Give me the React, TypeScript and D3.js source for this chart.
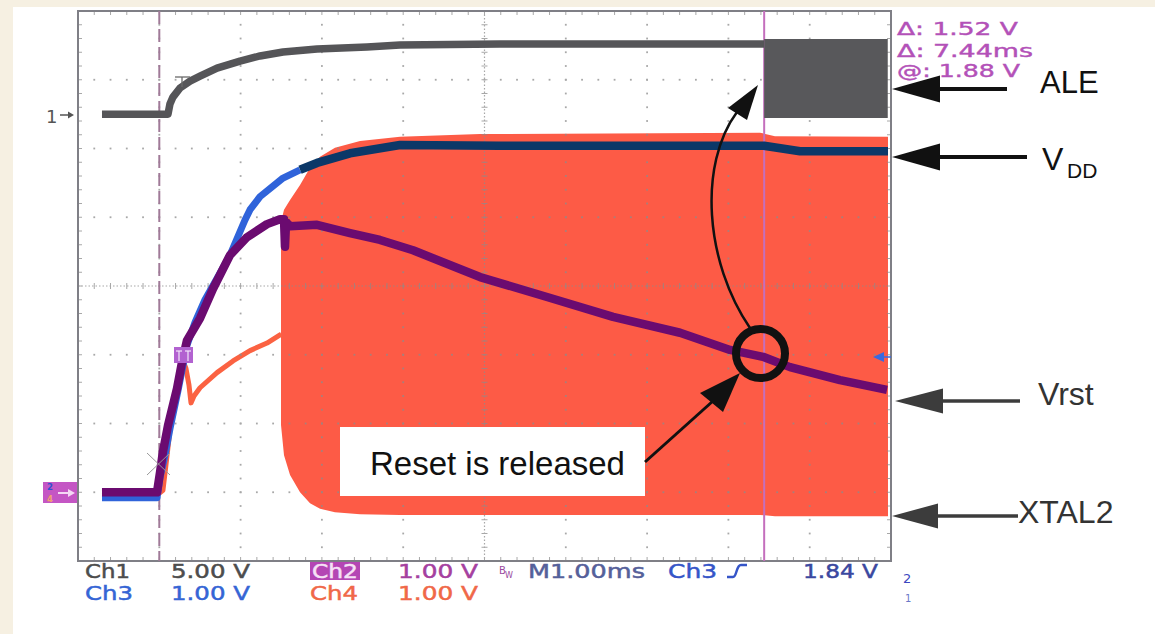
import React from 'react';
import * as d3 from 'd3';

const W = 1155;
const H = 634;

// ---- scope settings ----
const timeDomain: [number, number] = [-1, 9]; // ms, 1.00 ms/div, trigger at 1st division
const divDomain: [number, number] = [-4, 4];
const ch1Offset = 2.5; // divisions above centre
const ch1VoltsPerDiv = 5;
const lowOffset = -3; // ground of Ch2/3/4
const lowVoltsPerDiv = 1;
const cursorT = 7.44;

// ---- Ch1: ALE (5 V/div) ----
const aleT = [-0.705, 0.107, 0.131, 0.168, 0.255, 0.378, 0.501, 0.71, 0.993, 1.239, 1.522, 1.94, 2.555, 2.96, 4.19, 7.438];
const aleV = [0.0, 0.0, 0.73, 1.24, 1.9, 2.4, 2.76, 3.35, 3.86, 4.23, 4.52, 4.74, 4.88, 5.02, 5.1, 5.1];
const aleBurstT = [7.44, 8.96];
const aleBurstHigh = [5.46, 5.46];
const aleBurstLow = [-0.28, -0.28];

// ---- Ch3: VDD (1 V/div) ----
const vddT = [-0.705, -0.028, 0.009, 0.07, 0.132, 0.23, 0.341, 0.439, 0.562, 0.71, 0.87, 1.054, 1.116, 1.239, 1.522, 1.731, 1.94, 2.346, 2.961, 4.191, 7.438, 7.881, 8.963];
const vddV = [-0.08, -0.08, 0.21, 0.54, 0.93, 1.48, 2.14, 2.47, 2.8, 3.11, 3.45, 3.96, 4.11, 4.3, 4.57, 4.69, 4.79, 4.93, 5.05, 5.04, 5.04, 4.96, 4.96];

// ---- Ch2: Vrst (1 V/div) ----
const vrstT = [-0.705, -0.028, 0.009, 0.045, 0.107, 0.218, 0.279, 0.341, 0.501, 0.661, 0.87, 1.079, 1.325, 1.485, 1.534, 1.546, 1.559, 1.608, 1.94, 2.346, 2.715, 3.121, 3.945, 4.769, 5.581, 6.405, 7.02, 7.426, 7.758, 8.373, 8.951];
const vrstV = [0.0, 0.0, 0.29, 0.59, 0.97, 1.51, 1.89, 2.21, 2.53, 2.96, 3.45, 3.71, 3.9, 3.97, 3.97, 3.57, 3.93, 3.87, 3.89, 3.77, 3.67, 3.52, 3.13, 2.84, 2.55, 2.32, 2.07, 1.97, 1.82, 1.63, 1.49];

// ---- Ch4: XTAL2 (1 V/div) ----
const xtalT = [-0.028, 0.045, 0.082, 0.132, 0.205, 0.279, 0.328, 0.365, 0.39, 0.427, 0.501, 0.71, 0.907, 1.116, 1.325, 1.485, 1.5];
const xtalV = [-0.04, 0.03, 0.4, 0.91, 1.42, 1.95, 1.8, 1.56, 1.3, 1.4, 1.52, 1.74, 1.91, 2.06, 2.17, 2.29, 2.3];
const xtalEnvT = [1.497, 1.534, 1.608, 1.731, 1.854, 1.977, 2.161, 2.469, 2.961, 3.945, 7.389, 7.573, 8.963];
const xtalEnvHigh = [3.93, 4.11, 4.25, 4.47, 4.72, 4.88, 5.01, 5.11, 5.17, 5.21, 5.23, 5.18, 5.17];
const xtalEnvLow = [0.98, 0.54, 0.25, 0.0, -0.16, -0.24, -0.29, -0.32, -0.33, -0.33, -0.33, -0.35, -0.35];

// ---- texts ----
const readout = ['Δ: 1.52 V', 'Δ: 7.44ms', '@: 1.88 V'];
const row1Labels = ['Ch1', '5.00 V', 'Ch2', '1.00 V', 'M1.00ms', 'Ch3', '1.84 V'];
const row2Labels = ['Ch3', '1.00 V', 'Ch4', '1.00 V'];
const signalNames = ['ALE', 'V', 'DD', 'Vrst', 'XTAL2'];
const calloutText = 'Reset is released';

// ---- layout ----
const PL = 78, PR = 891, PT = 11, PB = 561;

const x = d3.scaleLinear().domain(timeDomain).range([PL, PR]);
const yDiv = d3.scaleLinear().domain(divDomain).range([PB, PT]);
const yCh1 = (v: number) => yDiv(ch1Offset + v / ch1VoltsPerDiv);
const yLow = (v: number) => yDiv(lowOffset + v / lowVoltsPerDiv);

const zip = (t: number[], v: number[]) => t.map((tt, i) => [tt, v[i]] as [number, number]);

const lineCh1 = d3.line<[number, number]>().x(d => x(d[0])).y(d => yCh1(d[1]));
const lineLow = d3.line<[number, number]>().x(d => x(d[0])).y(d => yLow(d[1]));

const envArea = d3
  .area<number>()
  .x(i => x(xtalEnvT[i]))
  .y0(i => yLow(xtalEnvLow[i]))
  .y1(i => yLow(xtalEnvHigh[i]));

const aleArea = d3
  .area<number>()
  .x(i => x(aleBurstT[i]))
  .y0(i => yCh1(aleBurstLow[i]))
  .y1(i => yCh1(aleBurstHigh[i]));

const OSC_FONT = 'DejaVu Sans, Verdana, sans-serif';
const ARIAL = 'Liberation Sans, Arial, sans-serif';

function Grid() {
  const els: React.ReactNode[] = [];
  const gridCol = '#8c8c8c';
  for (let i = 1; i < 10; i++) {
    if (i === 5) continue;
    const gx = x(timeDomain[0] + i);
    for (let j = 1; j < 40; j++) {
      const gy = yDiv(-4 + j * 0.2);
      els.push(<rect key={`v${i}-${j}`} x={gx - 0.9} y={gy - 0.9} width={1.8} height={1.8} fill={gridCol} />);
    }
  }
  for (let k = 1; k < 8; k++) {
    if (k === 4) continue;
    const gy = yDiv(-4 + k);
    for (let j = 1; j < 50; j++) {
      const gx = x(timeDomain[0] + j * 0.2);
      els.push(<rect key={`h${k}-${j}`} x={gx - 0.9} y={gy - 0.9} width={1.8} height={1.8} fill={gridCol} />);
    }
  }
  const cx = x(timeDomain[0] + 5);
  const cy = yDiv(0);
  els.push(<line key="cx" x1={cx} x2={cx} y1={PT} y2={PB} stroke={gridCol} strokeWidth={1.2} strokeDasharray="1.5 2" />);
  els.push(<line key="cy" x1={PL} x2={PR} y1={cy} y2={cy} stroke={gridCol} strokeWidth={1.2} strokeDasharray="1.5 2" />);
  for (let j = 1; j < 50; j++) {
    const gx = x(timeDomain[0] + j * 0.2);
    els.push(<line key={`ct${j}`} x1={gx} x2={gx} y1={cy - 3} y2={cy + 3} stroke={gridCol} strokeWidth={1} />);
    els.push(<line key={`bt${j}`} x1={gx} x2={gx} y1={PB - 4} y2={PB} stroke={gridCol} strokeWidth={1} />);
    els.push(<line key={`tt${j}`} x1={gx} x2={gx} y1={PT} y2={PT + 4} stroke={gridCol} strokeWidth={1} />);
  }
  for (let j = 1; j < 40; j++) {
    const gy = yDiv(-4 + j * 0.2);
    els.push(<line key={`cv${j}`} x1={cx - 3} x2={cx + 3} y1={gy} y2={gy} stroke={gridCol} strokeWidth={1} />);
    els.push(<line key={`lt${j}`} x1={PL} x2={PL + 4} y1={gy} y2={gy} stroke={gridCol} strokeWidth={1} />);
    els.push(<line key={`rt${j}`} x1={PR - 4} x2={PR} y1={gy} y2={gy} stroke={gridCol} strokeWidth={1} />);
  }
  return <g opacity={0.75}>{els}</g>;
}

function LeftArrow({ tipX, y, baseX, half, endX, color, sw }: any) {
  return (
    <g>
      <line x1={baseX - 2} x2={endX} y1={y} y2={y} stroke={color} strokeWidth={sw} />
      <polygon points={`${tipX},${y} ${baseX},${y - half} ${baseX},${y + half}`} fill={color} />
    </g>
  );
}

export default function App() {
  const idxEnv = xtalEnvT.map((_, i) => i);
  const idxAle = aleBurstT.map((_, i) => i);
  const aleData = zip(aleT, aleV);
  const vddData = zip(vddT, vddV);
  const vrstData = zip(vrstT, vrstV);
  const xtalData = zip(xtalT, xtalV);
  const vddBlue = vddData.filter(d => d[0] <= 1.85);
  const vddNavy = vddData.filter(d => d[0] >= 1.7);
  const trigX = x(0);
  const curX = x(cursorT);
  const row1 = [
    { x: 85, w: 45, c: '#4d4d4d' },
    { x: 171, w: 79, c: '#4d4d4d' },
    { x: 312, w: 46, c: '#f6e2f6' },
    { x: 398, w: 80, c: '#a5409f' },
    { x: 528, w: 117, c: '#55609a' },
    { x: 668, w: 49, c: '#3555c8' },
    { x: 803, w: 75, c: '#3a48a0' },
  ];
  const row2 = [
    { x: 85, w: 48, c: '#3565d5' },
    { x: 171, w: 79, c: '#3565d5' },
    { x: 310, w: 48, c: '#f06848' },
    { x: 398, w: 80, c: '#f06848' },
  ];
  const readoutPos = [
    { y: 35, w: 121 },
    { y: 57, w: 136 },
    { y: 77, w: 123 },
  ];

  return (
    <svg width={W} height={H} style={{ position: 'absolute', left: 0, top: 0, display: 'block' }}>
      <rect x={0} y={0} width={W} height={H} fill="#f6f0e2" />
      <rect x={13} y={7} width={W - 13} height={H - 7} fill="#ffffff" />

      {/* Ch4 XTAL2 oscillation envelope and start-up trace */}
      <path d={envArea(idxEnv) || ''} fill="#fd5b46" />
      <path d={lineLow(xtalData) || ''} fill="none" stroke="#fb6242" strokeWidth={5} strokeLinejoin="round" />

      <Grid />

      <rect x={PL} y={PT} width={PR - PL} height={PB - PT} fill="none" stroke="#7f7f86" strokeWidth={2} />

      <line x1={trigX} x2={trigX} y1={PT} y2={PB} stroke="#a07a98" strokeWidth={2} strokeDasharray="13 5" />
      <line x1={curX} x2={curX} y1={PT} y2={PB} stroke="#c46fbd" strokeWidth={2} />

      {/* Ch1 ALE */}
      <path d={lineCh1(aleData) || ''} fill="none" stroke="#555558" strokeWidth={7.5} strokeLinejoin="round" />
      <path d={aleArea(idxAle) || ''} fill="#58585b" />

      {/* Ch3 VDD */}
      <path d={lineLow(vddBlue) || ''} fill="none" stroke="#2f63da" strokeWidth={7} strokeLinejoin="round" />
      <path d={lineLow(vddNavy) || ''} fill="none" stroke="#0c3868" strokeWidth={8.5} strokeLinejoin="round" />

      {/* Ch2 Vrst */}
      <path d={lineLow(vrstData) || ''} fill="none" stroke="#6b0b70" strokeWidth={8.5} strokeLinejoin="round" />

      {/* markers */}
      <g stroke="#9a9a9a" strokeWidth={1}>
        <line x1={147} y1={453} x2={170} y2={475} />
        <line x1={170} y1={453} x2={147} y2={475} />
      </g>
      <rect x={174} y={347} width={19} height={16} fill="#b262d0" />
      <g stroke="#f2e6fa" strokeWidth={1.2}>
        <line x1={176} y1={351} x2={182} y2={351} />
        <line x1={179} y1={351} x2={179} y2={361} />
        <line x1={185} y1={351} x2={191} y2={351} />
        <line x1={188} y1={351} x2={188} y2={361} />
      </g>
      <g stroke="#6a6a6a" strokeWidth={1.3}>
        <line x1={175} y1={77} x2={190} y2={77} />
        <line x1={182} y1={77} x2={182} y2={87} />
      </g>
      <polygon points="873,357 884,352 884,362" fill="#3a6ae0" />
      <line x1={884} x2={891} y1={357} y2={357} stroke="#3a6ae0" strokeWidth={1.5} />

      {/* left ground markers */}
      <text x={46} y={123} fontFamily={OSC_FONT} fontSize={18} fill="#555">1</text>
      <line x1={60} x2={70} y1={115} y2={115} stroke="#555" strokeWidth={1.5} />
      <polygon points="74,115 68,111.5 68,118.5" fill="#555" />
      <rect x={43} y={482} width={34} height={21} fill="#c456c4" />
      <text x={47} y={490} fontFamily={OSC_FONT} fontSize={8.5} fontWeight="bold" fill="#3050d0">2</text>
      <text x={47} y={501.5} fontFamily={OSC_FONT} fontSize={8.5} fontWeight="bold" fill="#f0a070">4</text>
      <line x1={58} x2={70} y1={493} y2={493} stroke="#f4d8f4" strokeWidth={2} />
      <polygon points="75,493 68,489 68,497" fill="#f4d8f4" />

      {/* readout */}
      {readout.map((t, i) => (
        <text
          key={t}
          x={897}
          y={readoutPos[i].y}
          fontFamily={OSC_FONT}
          fontSize={17}
          fill="#b351b8"
          stroke="#b351b8"
          strokeWidth={0.4}
          textLength={readoutPos[i].w}
          lengthAdjust="spacingAndGlyphs"
        >
          {t}
        </text>
      ))}

      {/* bottom status lines */}
      <rect x={310} y={562} width={50} height={18} fill="#b446b4" />
      {row1Labels.map((t, i) => (
        <text
          key={'r1' + i}
          x={row1[i].x}
          y={578}
          fontFamily={OSC_FONT}
          fontSize={20}
          fill={row1[i].c}
          stroke={row1[i].c}
          strokeWidth={0.5}
          textLength={row1[i].w}
          lengthAdjust="spacingAndGlyphs"
        >
          {t}
        </text>
      ))}
      {row2Labels.map((t, i) => (
        <text
          key={'r2' + i}
          x={row2[i].x}
          y={600}
          fontFamily={OSC_FONT}
          fontSize={20}
          fill={row2[i].c}
          stroke={row2[i].c}
          strokeWidth={0.5}
          textLength={row2[i].w}
          lengthAdjust="spacingAndGlyphs"
        >
          {t}
        </text>
      ))}
      <text x={499} y={574} fontFamily={OSC_FONT} fontSize={10} fill="#9a4aa0">B</text>
      <text x={505} y={578} fontFamily={OSC_FONT} fontSize={8} fill="#9a4aa0">W</text>
      <path d="M727,577 L733,577 C737,577 736,565 741,565 L747,565" fill="none" stroke="#3555c8" strokeWidth={2.5} />
      <text x={903} y={583} fontFamily={OSC_FONT} fontSize={13} fill="#3a48c0">2</text>
      <text x={905} y={602} fontFamily={OSC_FONT} fontSize={10} fill="#6a78c8">1</text>

      {/* signal name annotations */}
      <LeftArrow tipX={892} y={89} baseX={940} half={13.5} endX={1007} color="#111" sw={4} />
      <text x={1040} y={93} fontFamily={ARIAL} fontSize={31} fill="#111">{signalNames[0]}</text>
      <LeftArrow tipX={892} y={157} baseX={940} half={13.5} endX={1027} color="#111" sw={4} />
      <text x={1042} y={170} fontFamily={ARIAL} fontSize={32} fill="#111">{signalNames[1]}</text>
      <text x={1067} y={178} fontFamily={ARIAL} fontSize={21} fill="#111">{signalNames[2]}</text>
      <LeftArrow tipX={895} y={401} baseX={943} half={12.5} endX={1020} color="#3c3c3c" sw={3.5} />
      <text x={1038} y={405} fontFamily={ARIAL} fontSize={32} fill="#333">{signalNames[3]}</text>
      <LeftArrow tipX={892} y={516} baseX={938} half={12.5} endX={1018} color="#3c3c3c" sw={3.5} />
      <text x={1018} y={523} fontFamily={ARIAL} fontSize={32} fill="#333">{signalNames[4]}</text>

      {/* callout */}
      <rect x={340} y={427} width={305} height={69} fill="#ffffff" />
      <text x={370} y={475} fontFamily={ARIAL} fontSize={33} fill="#111">{calloutText}</text>
      <line x1={645} y1={462} x2={713} y2={401} stroke="#111" strokeWidth={3} />
      <polygon points="740,373 700,393 723,412" fill="#111" />
      <circle cx={760.5} cy={353.5} r={24.5} fill="none" stroke="#111" strokeWidth={8} />
      <path d="M750,328 C705,262 698,165 737,112" fill="none" stroke="#111" strokeWidth={2.5} />
      <polygon points="758,85 728,108 747,120" fill="#111" />
    </svg>
  );
}
